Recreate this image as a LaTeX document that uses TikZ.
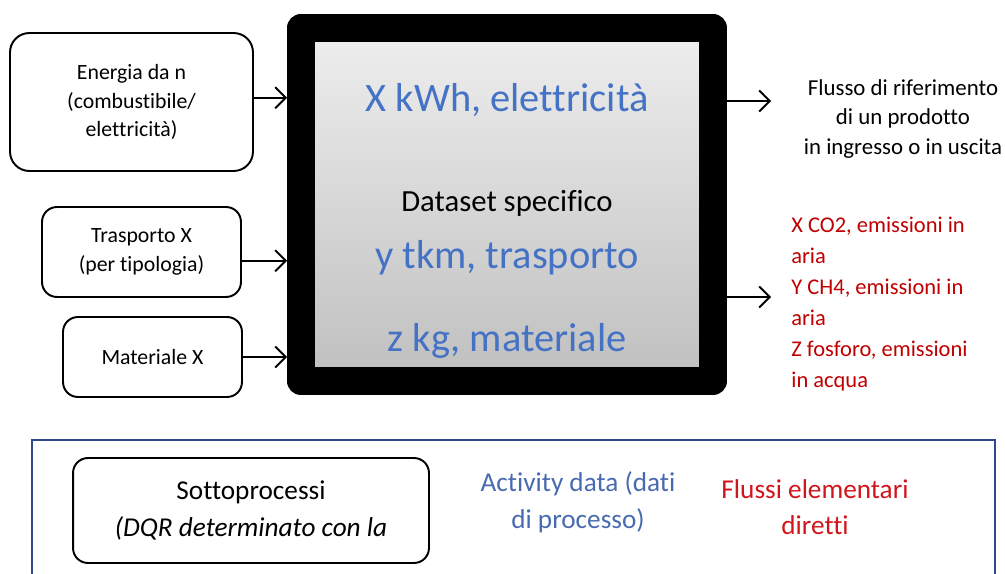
\documentclass[tikz,border=0pt]{standalone}
\usepackage{fontspec}
\setmainfont{Carlito}[Ligatures=NoCommon]
\usetikzlibrary{arrows.meta}
\definecolor{kwhblue}{RGB}{68,114,196}
\definecolor{emisred}{RGB}{192,0,0}
\definecolor{actblue}{RGB}{72,106,176}
\definecolor{flussired}{RGB}{208,22,28}
\definecolor{frameblue}{RGB}{47,72,140}
\begin{document}
\begin{tikzpicture}[x=0.02cm, y=-0.02cm, inbox/.style={draw, line width=1.1pt, align=center, font=\fontsize{12.4}{16.2}\selectfont}, big/.style={text=kwhblue, anchor=base, font=\fontsize{23}{28}\selectfont}, l/.style={align=center, font=\fontsize{13}{17}\selectfont}, freccia/.style={->, line width=1.1pt}, >={Straight Barb[length=6pt,width=12pt]}]
	\useasboundingbox (0,0) rectangle (1005,574);

	\node[inbox, rounded corners=11pt, minimum width=4.86cm, minimum height=2.76cm] (energia) at (131.5,102) {Energia da n\\(combustibile/\\elettricità)};
	\node[inbox, rounded corners=8.5pt, minimum width=3.98cm, minimum height=1.8cm] (trasporto) at (141.5,252) {Trasporto X\\(per tipologia)};
	\node[inbox, rounded corners=8.5pt, minimum width=3.58cm, minimum height=1.6cm] (materiale) at (152.5,357) {Materiale X};

	\node[draw=black, line width=0.55cm, line join=round, top color=gray!13, bottom color=gray!50, minimum width=8.25cm, minimum height=7.07cm] (dataset) at (507,204.5) {};
	\node[big] (kwh) at (507,112) {X kWh, elettricità};
	\node[anchor=base, font=\fontsize{17.5}{21}\selectfont] (specifico) at (507,212) {Dataset specifico};
	\node[big] (tkm) at (507,269) {y tkm, trasporto};
	\node[big] (kg) at (507,352) {z kg, materiale};

	\draw[freccia] (energia.2.4) -- (dataset.west |- energia.2.4);
	\draw[freccia] (trasporto.-5.7) -- (dataset.west |- trasporto.-5.7);
	\draw[freccia] (materiale.east) -- (dataset.west |- materiale.east);

	\coordinate (out1) at (771,101);
	\coordinate (out2) at (771,297);
	\draw[freccia] (dataset.east |- out1) -- (out1);
	\draw[freccia] (dataset.east |- out2) -- (out2);

	\node[l] (flusso) at (903,119) {Flusso di riferimento\\di un prodotto\\in ingresso o in uscita};
	\node[align=left, anchor=west, inner sep=0pt, text=emisred, font=\fontsize{12.8}{17.6}\selectfont] (emissioni) at (791,304) {X CO2, emissioni in\\aria\\Y CH4, emissioni in\\aria\\Z fosforo, emissioni\\in acqua};

	%\draw[frameblue] (32,440) rectangle (995,600);
	\draw[frameblue, line width=1.1pt] (32,590) -- (32,440) -- (995,440) -- (995,590);
	\node[draw, line width=1.1pt, rounded corners=8.5pt, minimum width=7.12cm, minimum height=2.1cm, align=center, font=\fontsize{15.5}{21}\selectfont] (sotto) at (251,510.5) {Sottoprocessi\\\textit{(DQR determinato con la}};
	\node[align=center, text=actblue, font=\fontsize{15.5}{21}\selectfont] (activity) at (578,502) {Activity data (dati\\di processo)};
	\node[align=center, text=flussired, font=\fontsize{15.5}{20.5}\selectfont] (flussi) at (815,507) {Flussi elementari\\diretti};
\end{tikzpicture}
\end{document}
